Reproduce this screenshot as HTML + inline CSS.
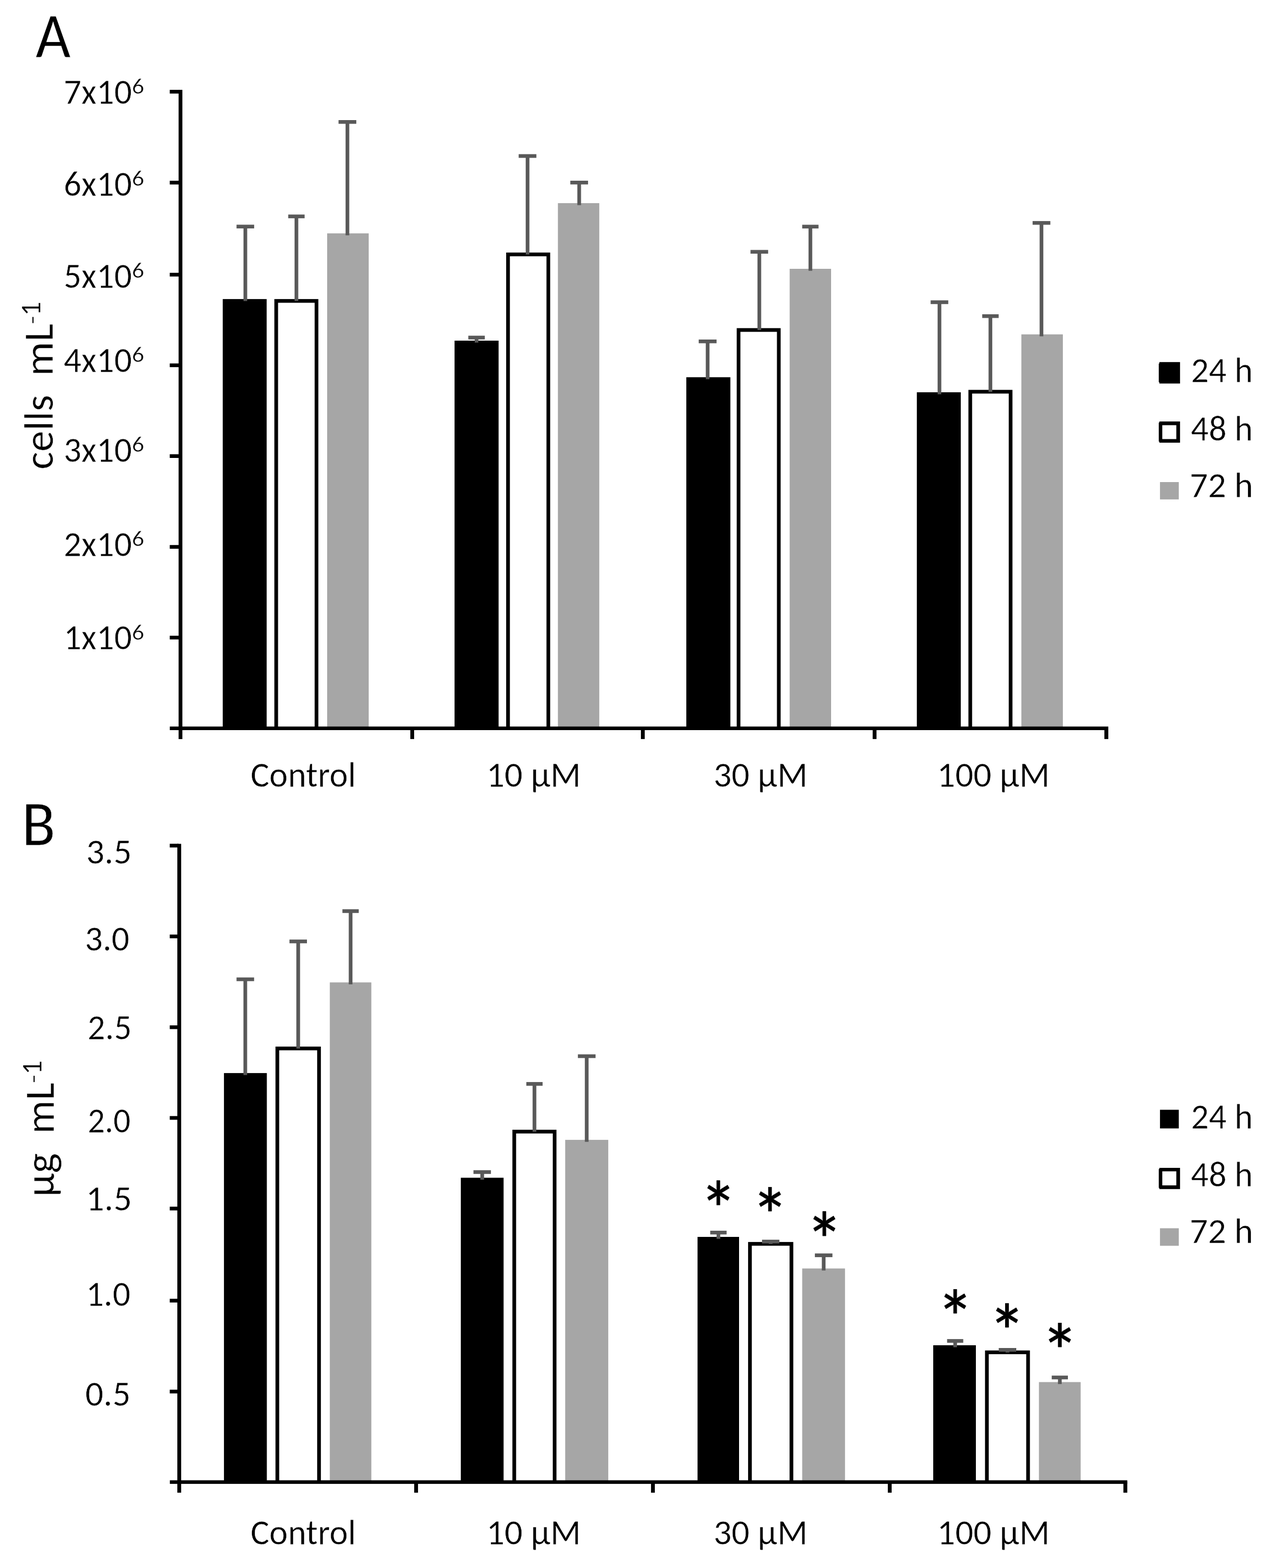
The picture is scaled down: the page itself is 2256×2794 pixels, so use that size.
<!DOCTYPE html>
<html><head><meta charset="utf-8"><title>Cell density and concentration bar charts</title>
<style>
html,body{margin:0;padding:0;background:#fff;}
svg{display:block;}
text{font-family:'Carlito', 'Liberation Sans', sans-serif;fill:#000;stroke:#fff;stroke-width:0.5px;}
text.ast{stroke:#000;stroke-width:0.9px;stroke-linejoin:round;}
</style></head>
<body>
<svg width="2256" height="2794" viewBox="0 0 2256 2794">
<rect x="0" y="0" width="2256" height="2794" fill="#fff"/>
<rect x="396.9" y="532.9" width="78.3" height="763.1" fill="#000"/>
<rect x="488.9" y="532.9" width="78.4" height="763.1" fill="#000"/>
<rect x="495.5" y="539.5" width="65.2" height="756.5" fill="#fff"/>
<rect x="583.0" y="415.8" width="74.0" height="880.2" fill="#a6a6a6"/>
<rect x="810.0" y="607.0" width="78.5" height="689.0" fill="#000"/>
<rect x="902.0" y="450.0" width="78.4" height="846.0" fill="#000"/>
<rect x="908.6" y="456.6" width="65.2" height="839.4" fill="#fff"/>
<rect x="994.2" y="362.0" width="73.7" height="934.0" fill="#a6a6a6"/>
<rect x="1223.0" y="672.2" width="78.5" height="623.8" fill="#000"/>
<rect x="1312.8" y="584.7" width="78.3" height="711.3" fill="#000"/>
<rect x="1319.4" y="591.3" width="65.1" height="704.7" fill="#fff"/>
<rect x="1407.2" y="479.0" width="73.8" height="817.0" fill="#a6a6a6"/>
<rect x="1633.8" y="699.0" width="78.3" height="597.0" fill="#000"/>
<rect x="1725.7" y="694.7" width="78.5" height="601.3" fill="#000"/>
<rect x="1732.3" y="701.3" width="65.3" height="594.7" fill="#fff"/>
<rect x="1820.1" y="595.8" width="73.9" height="700.2" fill="#a6a6a6"/>
<rect x="433.9" y="403.7" width="6.6" height="132.7" fill="#595959"/>
<rect x="421.5" y="400.4" width="31.4" height="6.6" fill="#595959"/>
<rect x="524.9" y="385.6" width="6.6" height="150.8" fill="#595959"/>
<rect x="513.6" y="382.3" width="29.2" height="6.6" fill="#595959"/>
<rect x="615.8" y="217.3" width="6.6" height="202.0" fill="#595959"/>
<rect x="603.3" y="214.0" width="31.6" height="6.6" fill="#595959"/>
<rect x="845.9" y="601.5" width="6.6" height="9.0" fill="#595959"/>
<rect x="834.5" y="598.2" width="29.4" height="6.6" fill="#595959"/>
<rect x="936.8" y="278.0" width="6.6" height="175.5" fill="#595959"/>
<rect x="924.3" y="274.7" width="31.5" height="6.6" fill="#595959"/>
<rect x="1028.8" y="325.3" width="6.6" height="40.2" fill="#595959"/>
<rect x="1016.3" y="322.0" width="31.6" height="6.6" fill="#595959"/>
<rect x="1257.7" y="608.3" width="6.6" height="67.4" fill="#595959"/>
<rect x="1245.1" y="605.0" width="31.8" height="6.6" fill="#595959"/>
<rect x="1349.8" y="448.7" width="6.6" height="139.5" fill="#595959"/>
<rect x="1337.4" y="445.4" width="31.4" height="6.6" fill="#595959"/>
<rect x="1440.8" y="403.8" width="6.6" height="78.7" fill="#595959"/>
<rect x="1429.5" y="400.5" width="29.1" height="6.6" fill="#595959"/>
<rect x="1670.8" y="538.5" width="6.6" height="164.0" fill="#595959"/>
<rect x="1658.4" y="535.2" width="31.4" height="6.6" fill="#595959"/>
<rect x="1761.6" y="563.3" width="6.6" height="134.9" fill="#595959"/>
<rect x="1750.3" y="560.0" width="29.3" height="6.6" fill="#595959"/>
<rect x="1852.6" y="397.2" width="6.6" height="202.1" fill="#595959"/>
<rect x="1840.1" y="393.9" width="31.6" height="6.6" fill="#595959"/>
<rect x="318.3" y="160.1" width="6.7" height="1156.9" fill="#000"/>
<rect x="302.5" y="160.1" width="17.5" height="6.6" fill="#000"/>
<rect x="302.5" y="322.1" width="17.5" height="6.6" fill="#000"/>
<rect x="302.5" y="486.1" width="17.5" height="6.6" fill="#000"/>
<rect x="302.5" y="647.6" width="17.5" height="6.6" fill="#000"/>
<rect x="302.5" y="809.4" width="17.5" height="6.6" fill="#000"/>
<rect x="302.5" y="971.2" width="17.5" height="6.6" fill="#000"/>
<rect x="302.5" y="1132.8" width="17.5" height="6.6" fill="#000"/>
<rect x="302.6" y="1294.6" width="1672.4" height="6.4" fill="#000"/>
<rect x="731.2" y="1298.0" width="6.8" height="18.9" fill="#000"/>
<rect x="1142.1" y="1298.0" width="6.8" height="18.9" fill="#000"/>
<rect x="1555.1" y="1298.0" width="6.8" height="18.9" fill="#000"/>
<rect x="1968.0" y="1297.5" width="7.0" height="19.4" fill="#000"/>
<rect x="399.1" y="1912.1" width="76.4" height="726.9" fill="#000"/>
<rect x="490.9" y="1864.9" width="80.9" height="774.1" fill="#000"/>
<rect x="497.5" y="1871.5" width="67.7" height="767.5" fill="#fff"/>
<rect x="587.7" y="1750.5" width="74.0" height="888.5" fill="#a6a6a6"/>
<rect x="821.2" y="2098.6" width="76.2" height="540.4" fill="#000"/>
<rect x="913.1" y="2013.1" width="78.5" height="625.9" fill="#000"/>
<rect x="919.7" y="2019.7" width="65.3" height="619.3" fill="#fff"/>
<rect x="1007.2" y="2031.1" width="76.7" height="607.9" fill="#a6a6a6"/>
<rect x="1243.0" y="2204.0" width="74.0" height="435.0" fill="#000"/>
<rect x="1333.1" y="2213.1" width="80.5" height="425.9" fill="#000"/>
<rect x="1339.7" y="2219.7" width="67.3" height="419.3" fill="#fff"/>
<rect x="1429.5" y="2260.3" width="76.3" height="378.7" fill="#a6a6a6"/>
<rect x="1663.0" y="2397.1" width="76.0" height="241.9" fill="#000"/>
<rect x="1755.3" y="2406.4" width="80.0" height="232.6" fill="#000"/>
<rect x="1761.9" y="2413.0" width="66.8" height="226.0" fill="#fff"/>
<rect x="1851.4" y="2462.7" width="74.3" height="176.3" fill="#a6a6a6"/>
<rect x="433.8" y="1745.0" width="6.6" height="170.6" fill="#595959"/>
<rect x="421.5" y="1741.7" width="31.3" height="6.6" fill="#595959"/>
<rect x="528.1" y="1677.5" width="6.6" height="190.9" fill="#595959"/>
<rect x="515.8" y="1674.2" width="31.2" height="6.6" fill="#595959"/>
<rect x="621.5" y="1623.5" width="6.6" height="130.5" fill="#595959"/>
<rect x="610.2" y="1620.2" width="29.1" height="6.6" fill="#595959"/>
<rect x="856.0" y="2088.5" width="6.6" height="13.6" fill="#595959"/>
<rect x="843.7" y="2085.2" width="31.1" height="6.6" fill="#595959"/>
<rect x="949.1" y="1931.4" width="6.6" height="85.2" fill="#595959"/>
<rect x="937.9" y="1928.1" width="29.0" height="6.6" fill="#595959"/>
<rect x="1042.2" y="1882.0" width="6.6" height="152.6" fill="#595959"/>
<rect x="1029.8" y="1878.7" width="31.5" height="6.6" fill="#595959"/>
<rect x="1276.9" y="2196.3" width="6.6" height="11.2" fill="#595959"/>
<rect x="1265.6" y="2193.0" width="29.2" height="6.6" fill="#595959"/>
<rect x="1370.0" y="2212.3" width="6.6" height="4.3" fill="#595959"/>
<rect x="1357.9" y="2209.0" width="30.9" height="6.6" fill="#595959"/>
<rect x="1464.5" y="2236.8" width="6.6" height="27.0" fill="#595959"/>
<rect x="1452.1" y="2233.5" width="31.3" height="6.6" fill="#595959"/>
<rect x="1698.8" y="2389.4" width="6.6" height="11.2" fill="#595959"/>
<rect x="1687.7" y="2386.1" width="28.8" height="6.6" fill="#595959"/>
<rect x="1792.0" y="2405.3" width="6.6" height="4.6" fill="#595959"/>
<rect x="1779.7" y="2402.0" width="31.3" height="6.6" fill="#595959"/>
<rect x="1885.3" y="2454.5" width="6.6" height="11.7" fill="#595959"/>
<rect x="1874.2" y="2451.2" width="28.8" height="6.6" fill="#595959"/>
<rect x="316.0" y="1503.6" width="6.8" height="1156.2" fill="#000"/>
<rect x="302.5" y="1503.5" width="15.5" height="6.6" fill="#000"/>
<rect x="302.5" y="1665.3" width="15.5" height="6.6" fill="#000"/>
<rect x="302.5" y="1827.1" width="15.5" height="6.6" fill="#000"/>
<rect x="302.5" y="1988.7" width="15.5" height="6.6" fill="#000"/>
<rect x="302.5" y="2150.2" width="15.5" height="6.6" fill="#000"/>
<rect x="302.5" y="2314.3" width="15.5" height="6.6" fill="#000"/>
<rect x="302.5" y="2476.3" width="15.5" height="6.6" fill="#000"/>
<rect x="302.7" y="2637.7" width="1706.1" height="6.4" fill="#000"/>
<rect x="738.1" y="2641.0" width="6.8" height="18.8" fill="#000"/>
<rect x="1160.1" y="2641.0" width="6.8" height="18.8" fill="#000"/>
<rect x="1582.1" y="2641.0" width="6.8" height="18.8" fill="#000"/>
<rect x="2001.9" y="2640.0" width="6.9" height="19.8" fill="#000"/>
<rect x="2066.0" y="645.2" width="36.8" height="38.2" fill="#000"/>
<rect x="2064.9" y="647.7" width="1.6" height="33.2" fill="#000"/>
<rect x="2066.0" y="751.0" width="36.8" height="37.8" fill="#000"/>
<rect x="2064.9" y="753.1" width="1.6" height="33.7" fill="#000"/>
<rect x="2071.2" y="757.6" width="25.0" height="24.8" fill="#fff"/>
<rect x="2067.1" y="859.0" width="33.5" height="30.9" fill="#a6a6a6"/>
<rect x="2067.1" y="1977.5" width="33.5" height="33.2" fill="#000"/>
<rect x="2066.0" y="2081.0" width="36.8" height="37.8" fill="#000"/>
<rect x="2064.9" y="2083.1" width="1.6" height="33.7" fill="#000"/>
<rect x="2071.2" y="2087.2" width="25.0" height="25.0" fill="#fff"/>
<rect x="2067.1" y="2188.6" width="33.5" height="31.2" fill="#a6a6a6"/>
<text x="63.52" y="101.50" font-size="112.50" textLength="62.32" lengthAdjust="spacingAndGlyphs">A</text>
<text x="38.68" y="1505.70" font-size="112.70" textLength="59.97" lengthAdjust="spacingAndGlyphs">B</text>
<text x="113.49" y="184.70" font-size="64.00" textLength="121.49" lengthAdjust="spacingAndGlyphs">7x10</text>
<text x="234.94" y="166.90" font-size="38.43" textLength="21.95" lengthAdjust="spacingAndGlyphs">6</text>
<text x="113.49" y="348.80" font-size="64.00" textLength="121.49" lengthAdjust="spacingAndGlyphs">6x10</text>
<text x="234.94" y="331.00" font-size="38.43" textLength="21.95" lengthAdjust="spacingAndGlyphs">6</text>
<text x="113.49" y="512.50" font-size="64.00" textLength="121.49" lengthAdjust="spacingAndGlyphs">5x10</text>
<text x="234.94" y="494.70" font-size="38.43" textLength="21.95" lengthAdjust="spacingAndGlyphs">6</text>
<text x="113.49" y="662.80" font-size="64.00" textLength="121.49" lengthAdjust="spacingAndGlyphs">4x10</text>
<text x="234.94" y="645.00" font-size="38.43" textLength="21.95" lengthAdjust="spacingAndGlyphs">6</text>
<text x="113.49" y="822.50" font-size="64.00" textLength="121.49" lengthAdjust="spacingAndGlyphs">3x10</text>
<text x="234.94" y="804.70" font-size="38.43" textLength="21.95" lengthAdjust="spacingAndGlyphs">6</text>
<text x="113.49" y="990.80" font-size="64.00" textLength="121.49" lengthAdjust="spacingAndGlyphs">2x10</text>
<text x="234.94" y="973.00" font-size="38.43" textLength="21.95" lengthAdjust="spacingAndGlyphs">6</text>
<text x="113.49" y="1157.40" font-size="64.00" textLength="121.49" lengthAdjust="spacingAndGlyphs">1x10</text>
<text x="234.94" y="1139.60" font-size="38.43" textLength="21.95" lengthAdjust="spacingAndGlyphs">6</text>
<text x="153.59" y="1539.40" font-size="64.00" textLength="81.25" lengthAdjust="spacingAndGlyphs">3.5</text>
<text x="151.16" y="1694.10" font-size="64.00" textLength="79.54" lengthAdjust="spacingAndGlyphs">3.0</text>
<text x="156.09" y="1851.60" font-size="64.00" textLength="78.62" lengthAdjust="spacingAndGlyphs">2.5</text>
<text x="156.17" y="2017.60" font-size="64.00" textLength="76.55" lengthAdjust="spacingAndGlyphs">2.0</text>
<text x="152.92" y="2156.90" font-size="64.00" textLength="82.17" lengthAdjust="spacingAndGlyphs">1.5</text>
<text x="153.13" y="2327.20" font-size="64.00" textLength="79.26" lengthAdjust="spacingAndGlyphs">1.0</text>
<text x="152.11" y="2504.70" font-size="64.00" textLength="80.60" lengthAdjust="spacingAndGlyphs">0.5</text>
<text x="446.44" y="1402.10" font-size="64.00" textLength="188.04" lengthAdjust="spacingAndGlyphs">Control</text>
<text x="866.73" y="1402.10" font-size="64.00" textLength="168.39" lengthAdjust="spacingAndGlyphs">10 µM</text>
<text x="1271.43" y="1402.10" font-size="64.00" textLength="167.78" lengthAdjust="spacingAndGlyphs">30 µM</text>
<text x="1669.83" y="1402.10" font-size="64.00" textLength="200.84" lengthAdjust="spacingAndGlyphs">100 µM</text>
<text x="446.44" y="2751.80" font-size="64.00" textLength="188.04" lengthAdjust="spacingAndGlyphs">Control</text>
<text x="866.73" y="2751.80" font-size="64.00" textLength="168.39" lengthAdjust="spacingAndGlyphs">10 µM</text>
<text x="1271.43" y="2751.80" font-size="64.00" textLength="167.78" lengthAdjust="spacingAndGlyphs">30 µM</text>
<text x="1669.83" y="2751.80" font-size="64.00" textLength="200.84" lengthAdjust="spacingAndGlyphs">100 µM</text>
<text x="2122.16" y="681.00" font-size="64.00" textLength="110.62" lengthAdjust="spacingAndGlyphs">24 h</text>
<text x="2122.12" y="784.50" font-size="64.00" textLength="110.67" lengthAdjust="spacingAndGlyphs">48 h</text>
<text x="2120.11" y="885.70" font-size="64.00">72 h</text>
<text x="2122.16" y="2010.80" font-size="64.00" textLength="110.62" lengthAdjust="spacingAndGlyphs">24 h</text>
<text x="2122.12" y="2114.00" font-size="64.00" textLength="110.67" lengthAdjust="spacingAndGlyphs">48 h</text>
<text x="2120.11" y="2214.60" font-size="64.00">72 h</text>
<text transform="translate(93.80,836.75) rotate(-90)" x="0" y="0" font-size="74.00" textLength="133.34" lengthAdjust="spacingAndGlyphs">cells</text>
<text transform="translate(93.80,670.18) rotate(-90)" x="0" y="0" font-size="74.00" textLength="93.56" lengthAdjust="spacingAndGlyphs">mL</text>
<text transform="translate(95.80,2132.77) rotate(-90)" x="0" y="0" font-size="74.00" textLength="78.16" lengthAdjust="spacingAndGlyphs">µg</text>
<text transform="translate(95.80,2020.47) rotate(-90)" x="0" y="0" font-size="74.00" textLength="91.42" lengthAdjust="spacingAndGlyphs">mL</text>
<text transform="translate(69.00,577.64) rotate(-90) scale(1,0.733)" x="0" y="0" font-size="48.00" textLength="14.97" lengthAdjust="spacingAndGlyphs">-</text>
<text transform="translate(71.50,562.94) rotate(-90)" x="0" y="0" font-size="50.56" textLength="25.47" lengthAdjust="spacingAndGlyphs">1</text>
<text transform="translate(71.00,1929.94) rotate(-90) scale(1,0.733)" x="0" y="0" font-size="48.00" textLength="14.97" lengthAdjust="spacingAndGlyphs">-</text>
<text transform="translate(73.70,1915.04) rotate(-90)" x="0" y="0" font-size="50.56" textLength="25.47" lengthAdjust="spacingAndGlyphs">1</text>
<text x="1246.57" y="2204.59" font-size="142.64" textLength="67.28" lengthAdjust="spacingAndGlyphs" class="ast">*</text>
<text x="1338.85" y="2214.71" font-size="140.99" textLength="66.93" lengthAdjust="spacingAndGlyphs" class="ast">*</text>
<text x="1435.41" y="2259.95" font-size="141.32" textLength="67.10" lengthAdjust="spacingAndGlyphs" class="ast">*</text>
<text x="1669.07" y="2396.71" font-size="140.99" textLength="66.39" lengthAdjust="spacingAndGlyphs" class="ast">*</text>
<text x="1761.23" y="2421.51" font-size="140.99" textLength="66.57" lengthAdjust="spacingAndGlyphs" class="ast">*</text>
<text x="1854.93" y="2457.41" font-size="140.99" textLength="67.46" lengthAdjust="spacingAndGlyphs" class="ast">*</text>
</svg>
</body></html>
